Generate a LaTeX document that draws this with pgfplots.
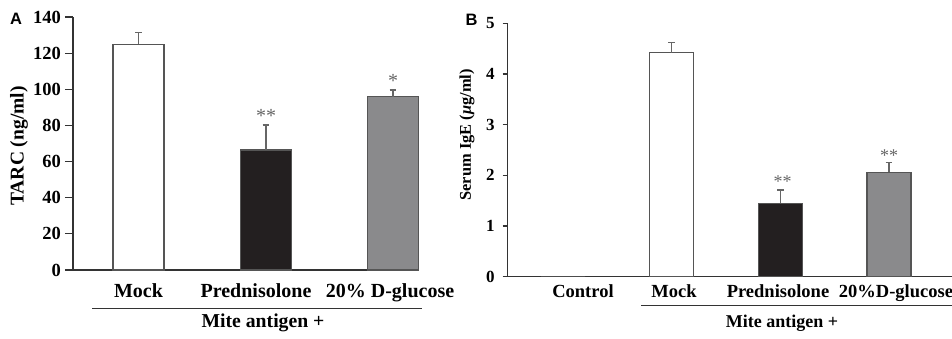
\documentclass[border=0pt]{standalone}
\usepackage{pgfplots}
\pgfplotsset{compat=1.18}
\usepackage{fontspec}
\setmainfont{Liberation Serif}
\newfontfamily\labelfont{Liberation Sans}
\definecolor{barblack}{HTML}{231F20}
\definecolor{bargray}{HTML}{8A8A8C}
\definecolor{edge}{HTML}{555555}
\definecolor{axisc}{HTML}{333333}
\definecolor{errc}{HTML}{666666}
\begin{document}
\begin{tikzpicture}[x=1pt,y=1pt]
\useasboundingbox (0,0) rectangle (952,338);
\pgfplotsset{
  mybar/.style={ybar, bar shift=0pt, draw=edge, line width=1.1pt,
    error bars/y dir=plus, error bars/y explicit,
    error bars/error mark=-,
    error bars/error bar style={errc, line width=1.3pt},
    error bars/error mark options={errc, line width=1.3pt, mark size=3.4pt, rotate=90}},
  base/.style={
    scale only axis, axis x line=bottom, axis y line=left,
    axis line style={-, axisc, line width=1.1pt},
    tick align=outside, tick pos=left,
    ytick style={axisc, line width=1.1pt},
    xtick style={draw=none},
    /pgf/number format/assume math mode=true,
    clip=false,
  },
}
% ---------------- Panel A ----------------
\begin{axis}[base,
  at={(73pt,68pt)}, anchor=south west,
  width=346pt, height=253pt,
  xmin=73, xmax=419, ymin=0, ymax=140,
  ytick={0,20,...,140},
  major tick length=8pt,
  yticklabel style={font=\fontsize{18.5}{18.5}\selectfont\bfseries, inner sep=0pt, xshift=-4pt},
  xtick={138.5,256,390},
  xticklabels={Mock, Prednisolone, 20\% D-glucose},
  xticklabel style={font=\fontsize{20}{20}\selectfont\bfseries, inner sep=0pt, text height=14pt, text depth=4pt, yshift=-5pt},
  ylabel={TARC (ng/ml)},
  ylabel style={font=\fontsize{19.5}{19.5}\selectfont\bfseries, at={(axis description cs:-0.156,0.49)}, anchor=center},
]
\addplot[mybar, bar width=51pt, fill=white] coordinates {(138.5,125) +- (0,6.5)};
\addplot[mybar, bar width=51pt, fill=barblack] coordinates {(266,66.4) +- (0,13.8)};
\addplot[mybar, bar width=51pt, fill=bargray] coordinates {(393,95.9) +- (0,3.7)};
\node[font=\fontsize{20}{20}\selectfont, text=errc] at (axis cs:266,85) {**};
\node[font=\fontsize{20}{20}\selectfont, text=errc] at (axis cs:393,104.5) {*};
\end{axis}
% ---------------- Panel B ----------------
\begin{axis}[base,
  at={(507.7pt,61.3pt)}, anchor=south west,
  width=444.3pt, height=253.4pt,
  xmin=507.7, xmax=952, ymin=0, ymax=5,
  ytick={0,1,...,5},
  major tick length=5pt,
  yticklabel style={font=\fontsize{17}{17}\selectfont\bfseries, inner sep=0pt, xshift=-8pt},
  xtick={583,674,778,896},
  xticklabels={Control, Mock, Prednisolone, 20\%D-glucose},
  xticklabel style={font=\fontsize{18.5}{18.5}\selectfont\bfseries, inner sep=0pt, text height=13pt, text depth=4pt, yshift=-3pt},
  ylabel={Serum IgE (\textit{μ}g/ml)},
  ylabel style={font=\fontsize{16.4}{16.4}\selectfont\bfseries, at={(axis description cs:-0.0916,0.56)}, anchor=center},
]
\addplot[mybar, bar width=44pt, fill=white, draw=none] coordinates {(563,0)};
\addplot[mybar, bar width=44pt, fill=white] coordinates {(671.5,4.42) +- (0,0.20)};
\addplot[mybar, bar width=44pt, fill=barblack] coordinates {(780.5,1.45) +- (0,0.26)};
\addplot[mybar, bar width=44pt, fill=bargray] coordinates {(889,2.06) +- (0,0.20)};
\node[font=\fontsize{18}{18}\selectfont, text=errc] at (axis cs:782.7,1.87) {**};
\node[font=\fontsize{18}{18}\selectfont, text=errc] at (axis cs:889,2.39) {**};
\end{axis}
% ---------------- decorations ----------------
\draw[axisc, line width=1pt] (92,30) -- (422,30);
\node[font=\fontsize{19.7}{19.7}\selectfont\bfseries] at (263,15) {Mite antigen +};
\draw[axisc, line width=1pt] (641,33) -- (952,33);
\node[font=\fontsize{18}{18}\selectfont\bfseries] at (782,15) {Mite antigen +};
\node[font=\labelfont\fontsize{16.5}{16.5}\selectfont\bfseries] at (16,319) {A};
\node[font=\labelfont\fontsize{16.5}{16.5}\selectfont\bfseries] at (471.5,318) {B};
\end{tikzpicture}
\end{document}
